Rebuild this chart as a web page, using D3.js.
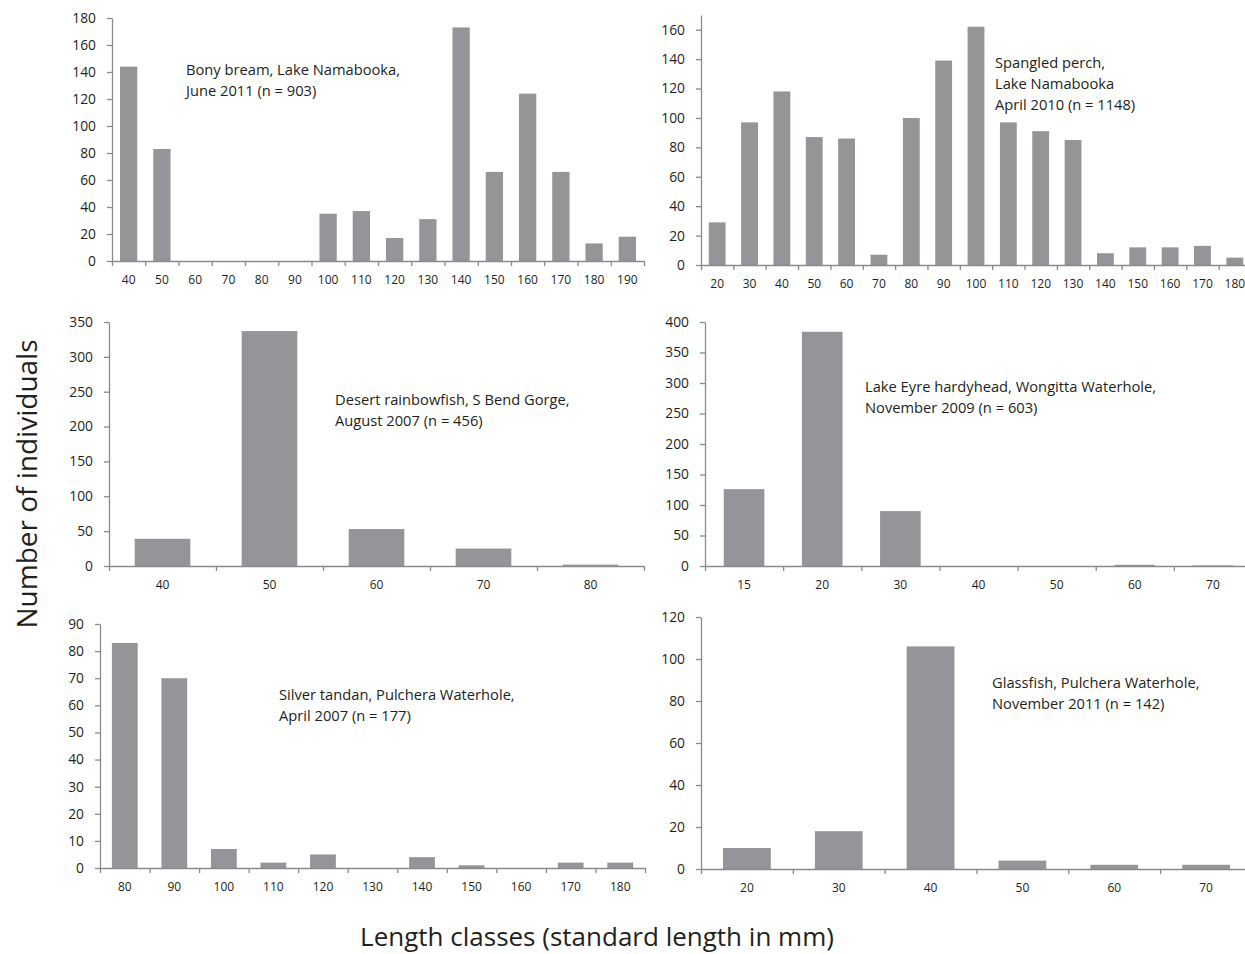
<!DOCTYPE html>
<html>
<head>
<meta charset="utf-8">
<script src="https://cdn.jsdelivr.net/npm/d3@7"></script>
<style>
  body { margin: 0; background: #fff; }
  svg text { font-family: "Open Sans", sans-serif; fill: #231f20; }
  .axis path, .axis line { stroke: #8a8a8a; stroke-width: 1.3; }
</style>
</head>
<body>
<div id="chart"></div>
<script>
const width = 1245;
const height = 954;

// Length classes and counts, one pair per panel
const bonyClasses = [40, 50, 60, 70, 80, 90, 100, 110, 120, 130, 140, 150, 160, 170, 180, 190];
const bonyCounts  = [144, 83, 0, 0, 0, 0, 35, 37, 17, 31, 173, 66, 124, 66, 13, 18];

const perchClasses = [20, 30, 40, 50, 60, 70, 80, 90, 100, 110, 120, 130, 140, 150, 160, 170, 180];
const perchCounts  = [29, 97, 118, 87, 86, 7, 100, 139, 162, 97, 91, 85, 8, 12, 12, 13, 5];

const rainbowClasses = [40, 50, 60, 70, 80];
const rainbowCounts  = [39, 337, 53, 25, 2];

const hardyClasses = [15, 20, 30, 40, 50, 60, 70];
const hardyCounts  = [126, 384, 90, 0, 0, 2, 1];

const tandanClasses = [80, 90, 100, 110, 120, 130, 140, 150, 160, 170, 180];
const tandanCounts  = [83, 70, 7, 2, 5, 0, 4, 1, 0, 2, 2];

const glassClasses = [20, 30, 40, 50, 60, 70];
const glassCounts  = [10, 18, 106, 4, 2, 2];

const svg = d3.select("#chart")
  .append("svg")
  .attr("width", width)
  .attr("height", height);

// panel boxes: x0 = y axis, x1 = end of x axis, y0 = zero line, yTop = top of y domain
const panels = [
  { classes: bonyClasses, counts: bonyCounts, x0: 112, x1: 644, y0: 261, yTop: 18, yMax: 180, step: 20,
    label: ["Bony bream, Lake Namabooka,", "June 2011 (n = 903)"], lx: 186, ly: 69 },
  { classes: perchClasses, counts: perchCounts, x0: 701, x1: 1251, y0: 265, yTop: 15, yMax: 170, tickMax: 160, step: 20,
    label: ["Spangled perch,", "Lake Namabooka", "April 2010 (n = 1148)"], lx: 995, ly: 62 },
  { classes: rainbowClasses, counts: rainbowCounts, x0: 109, x1: 644, y0: 566, yTop: 322, yMax: 350, step: 50,
    label: ["Desert rainbowfish, S Bend Gorge,", "August 2007 (n = 456)"], lx: 335, ly: 399 },
  { classes: hardyClasses, counts: hardyCounts, x0: 705, x1: 1252, y0: 566, yTop: 322, yMax: 400, step: 50,
    label: ["Lake Eyre hardyhead, Wongitta Waterhole,", "November 2009 (n = 603)"], lx: 865, ly: 386 },
  { classes: tandanClasses, counts: tandanCounts, x0: 100, x1: 645, y0: 868, yTop: 624, yMax: 90, step: 10,
    label: ["Silver tandan, Pulchera Waterhole,", "April 2007 (n = 177)"], lx: 279, ly: 694 },
  { classes: glassClasses, counts: glassCounts, x0: 701, x1: 1252, y0: 869, yTop: 617, yMax: 120, step: 20,
    label: ["Glassfish, Pulchera Waterhole,", "November 2011 (n = 142)"], lx: 992, ly: 682 }
];

const barShare = 0.52; // bar width as share of the category band

panels.forEach(p => {
  const n = p.classes.length;
  const x = d3.scaleBand()
    .domain(p.classes)
    .range([p.x0, p.x1])
    .padding(0);
  const xi = d3.scaleLinear()
    .domain([0, n])
    .range([p.x0, p.x1]);
  const y = d3.scaleLinear()
    .domain([0, p.yMax])
    .range([p.y0, p.yTop]);

  const g = svg.append("g");

  // bars
  g.selectAll("rect")
    .data(p.classes.map((c, i) => ({ c, v: p.counts[i] })))
    .join("rect")
    .attr("x", d => x(d.c) + x.bandwidth() * (1 - barShare) / 2)
    .attr("width", x.bandwidth() * barShare)
    .attr("y", d => y(d.v))
    .attr("height", d => p.y0 - y(d.v))
    .attr("fill", "#939598");

  // y axis
  const yAxis = g.append("g")
    .attr("class", "axis")
    .attr("transform", `translate(${p.x0},0)`)
    .call(d3.axisLeft(y)
      .tickValues(d3.range(0, (p.tickMax || p.yMax) + 1, p.step))
      .tickSize(5)
      .tickSizeOuter(0)
      .tickPadding(11));
  yAxis.selectAll("text").attr("font-size", "13.8px");

  // x axis tick marks at category boundaries
  g.append("g")
    .attr("class", "axis")
    .attr("transform", `translate(0,${p.y0})`)
    .call(d3.axisBottom(xi)
      .tickValues(d3.range(n + 1))
      .tickFormat("")
      .tickSize(5)
      .tickSizeOuter(0));

  // x labels centred in the bands
  const xLab = g.append("g")
    .attr("transform", `translate(0,${p.y0})`)
    .call(d3.axisBottom(x).tickSize(0).tickPadding(14));
  xLab.select(".domain").remove();
  xLab.selectAll("text").attr("font-size", "12px");

  // annotation
  const t = g.append("text")
    .attr("x", p.lx)
    .attr("y", p.ly)
    .attr("font-size", "14.7px")
    .attr("dominant-baseline", "central");
  p.label.forEach((line, i) => {
    t.append("tspan")
      .attr("x", p.lx)
      .attr("y", p.ly + i * 21)
      .text(line);
  });
});

// axis titles
svg.append("text")
  .attr("transform", "rotate(-90)")
  .attr("x", -484)
  .attr("y", 26)
  .attr("text-anchor", "middle")
  .attr("dominant-baseline", "central")
  .attr("font-size", "28px")
  .text("Number of individuals");

svg.append("text")
  .attr("x", 597)
  .attr("y", 936)
  .attr("text-anchor", "middle")
  .attr("dominant-baseline", "central")
  .attr("font-size", "26px")
  .text("Length classes (standard length in mm)");
</script>
</body>
</html>
